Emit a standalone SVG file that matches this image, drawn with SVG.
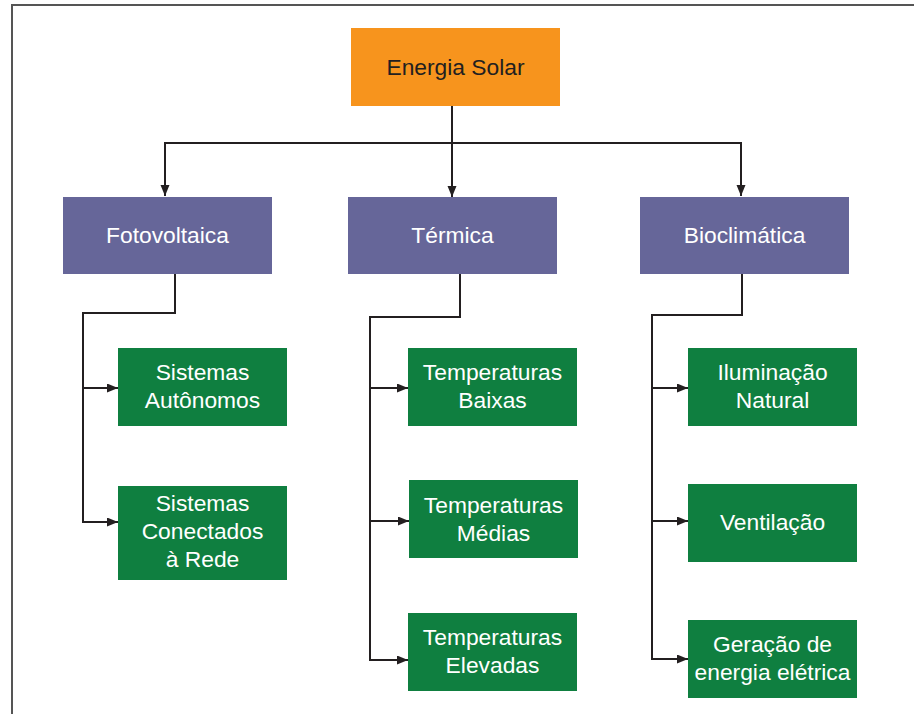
<svg xmlns="http://www.w3.org/2000/svg" width="914" height="714" viewBox="0 0 914 714">
<defs>
<style>
.frame{fill:none;stroke:#555;stroke-width:2}
.c{fill:none;stroke:#231F20;stroke-width:2}
.root rect{fill:#F7941D}
.root text{fill:#231F20}
.cat rect{fill:#666699}
.leaf rect{fill:#0F7F40}
text{font-family:"Liberation Sans",Arial,sans-serif;font-size:22.8px;fill:#FFFFFF;text-anchor:middle}
</style>
<marker id="ah" markerUnits="userSpaceOnUse" markerWidth="12" markerHeight="10" refX="11" refY="4.5" orient="auto">
<path d="M0,0 L11,4.5 L0,9 z" fill="#231F20"/>
</marker>
</defs>
<rect width="914" height="714" fill="#FFFFFF"/>
<path class="frame" d="M12,714 L12,5 L914,5"/>
<g id="connectors">
<path class="c" d="M452,106 L452,197" marker-end="url(#ah)"/>
<path class="c" d="M452,143 L165,143 L165,196" marker-end="url(#ah)"/>
<path class="c" d="M452,143 L741,143 L741,196" marker-end="url(#ah)"/>
<path class="c" d="M175,274 L175,313 L83,313 L83,522 L118,522" marker-end="url(#ah)"/>
<path class="c" d="M83,388 L118,388" marker-end="url(#ah)"/>
<path class="c" d="M460,274 L460,317 L370,317 L370,660 L408,660" marker-end="url(#ah)"/>
<path class="c" d="M370,388 L408,388" marker-end="url(#ah)"/>
<path class="c" d="M370,521 L409,521" marker-end="url(#ah)"/>
<path class="c" d="M742,274 L742,315 L652,315 L652,659 L688,659" marker-end="url(#ah)"/>
<path class="c" d="M652,388 L688,388" marker-end="url(#ah)"/>
<path class="c" d="M652,521 L688,521" marker-end="url(#ah)"/>
</g>
<g id="energia-solar" class="root"><rect x="351" y="28" width="209" height="78"/><text x="455.5" y="74.5">Energia Solar</text></g>
<g id="fotovoltaica" class="cat"><rect x="63" y="197" width="209" height="77"/><text x="167.5" y="243">Fotovoltaica</text></g>
<g id="termica" class="cat"><rect x="348" y="197" width="209" height="77"/><text x="452.5" y="243">Térmica</text></g>
<g id="bioclimatica" class="cat"><rect x="640" y="197" width="209" height="77"/><text x="744.5" y="243">Bioclimática</text></g>
<g id="sistemas-autonomos" class="leaf"><rect x="118" y="348" width="169" height="78"/><text x="202.5" y="380">Sistemas</text><text x="202.5" y="408">Autônomos</text></g>
<g id="sistemas-conectados" class="leaf"><rect x="118" y="486" width="169" height="94"/><text x="202.5" y="511">Sistemas</text><text x="202.5" y="539">Conectados</text><text x="202.5" y="567">à Rede</text></g>
<g id="temperaturas-baixas" class="leaf"><rect x="408" y="348" width="169" height="78"/><text x="492.5" y="380">Temperaturas</text><text x="492.5" y="408">Baixas</text></g>
<g id="temperaturas-medias" class="leaf"><rect x="409" y="480" width="169" height="78"/><text x="493.5" y="512.5">Temperaturas</text><text x="493.5" y="540.5">Médias</text></g>
<g id="temperaturas-elevadas" class="leaf"><rect x="408" y="613" width="169" height="78"/><text x="492.5" y="645">Temperaturas</text><text x="492.5" y="673">Elevadas</text></g>
<g id="iluminacao-natural" class="leaf"><rect x="688" y="348" width="169" height="78"/><text x="772.5" y="380">Iluminação</text><text x="772.5" y="408">Natural</text></g>
<g id="ventilacao" class="leaf"><rect x="688" y="484" width="169" height="78"/><text x="772.5" y="530">Ventilação</text></g>
<g id="geracao" class="leaf"><rect x="688" y="620" width="169" height="78"/><text x="772.5" y="652">Geração de</text><text x="772.5" y="680">energia elétrica</text></g>
</svg>
